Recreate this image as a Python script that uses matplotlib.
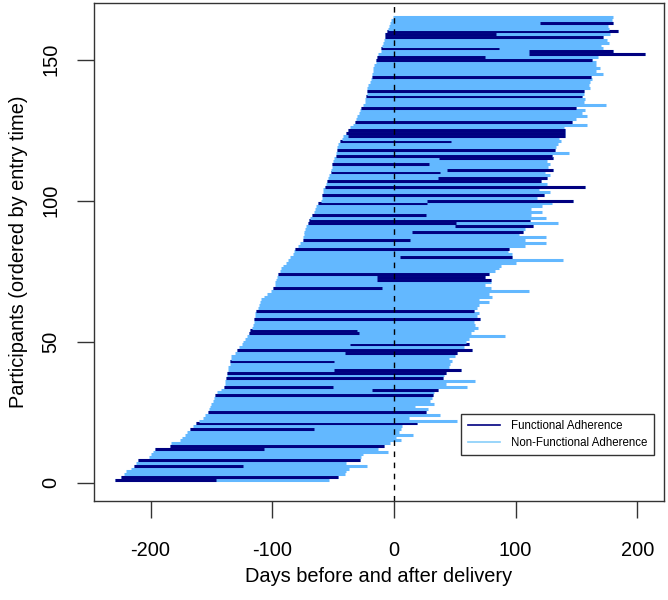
import matplotlib
matplotlib.use("Agg")
import matplotlib.pyplot as plt
from matplotlib.collections import LineCollection
from matplotlib.lines import Line2D

plt.rcParams['font.family'] = ['Liberation Sans', 'DejaVu Sans']
plt.rcParams['axes.unicode_minus'] = False

# Participant rows (ordered by entry time)
starts = [-229, -224, -222, -220, -216, -214, -212, -210, -201, -200,
          -198, -196, -184, -183, -176, -174, -172, -170, -168, -165,
          -163, -160, -157, -155, -153, -152, -151, -150, -149, -148,
          -147, -145, -142, -140, -139, -139, -138, -137, -137, -136,
          -136, -135, -135, -134, -134, -131, -129, -127, -125, -124,
          -122, -121, -119, -118, -117, -116, -115, -115, -114, -114,
          -113, -112, -111, -110, -109, -107, -104, -101, -99, -98,
          -98, -97, -96, -95, -94, -93, -91, -89, -87, -85,
          -83, -82, -81, -79, -77, -75, -75, -74, -74, -73,
          -72, -71, -70, -69, -67, -66, -65, -64, -62, -60,
          -59, -59, -58, -58, -57, -56, -55, -54, -53, -52,
          -52, -51, -51, -50, -49, -48, -48, -47, -47, -46,
          -44, -43, -42, -39, -38, -36, -34, -32, -31, -30,
          -29, -28, -27, -25, -24, -23.5, -23, -22, -22, -22,
          -21, -20, -19, -18, -18, -17, -17, -16, -15, -15,
          -14, -13, -11, -11, -10, -9, -8, -7, -7, -6,
          -5, -4, -3, -2, -1]

ends = [-53, -46, -40, -39, -37, -22, -39, -28, -27, -25,
        -5, -13, -8, -3, 6, 2, 16, 4, 6, 7,
        19, 52, 12, 38, 26, 28, 17, 33, 30, 31,
        32, 33, 36, 60, 43, 67, 40, 41, 43, 55,
        45, 46, 48, 45, 50, 52, 64, 58, 62, 59,
        62, 91, 63, 66, 69, 67, 66, 71, 68, 70,
        66, 68, 70, 78, 70, 81, 78, 111, 80, 75,
        80, 80, 75, 78, 83, 86, 88, 100, 139, 97,
        97, 94, 95, 108, 125, 108, 125, 103, 106, 108,
        114, 135, 112, 125, 113, 122, 113, 122, 130, 147,
        118, 123, 128, 119, 157, 126, 121, 126, 128, 124,
        131, 127, 128, 126, 131, 130, 144, 132, 133, 135,
        137, 136, 141, 141, 141, 140, 159, 146, 150, 159,
        155, 157, 150, 174, 156, 157, 155, 156, 156, 161,
        160, 161, 163, 162, 172, 166, 169, 166, 166, 163,
        168, 206, 180, 172, 170, 177, 175, 172, 178, 184,
        177, 176, 180, 179, 180]

# Functional adherence periods: participant row, from day, to day
dark_rows = [1, 2, 6, 8, 12, 13, 19, 21, 25, 31,
             33, 34, 37, 39, 40, 43, 46, 47, 49, 53,
             54, 58, 61, 69, 72, 73, 74, 80, 83, 86,
             89, 91, 92, 93, 95, 99, 100, 102, 105, 107,
             108, 110, 111, 113, 115, 116, 118, 121, 123, 124,
             125, 128, 133, 137, 139, 144, 150, 151, 152, 153,
             154, 158, 159, 160, 163]
dark_from = [-229, -224, -214, -210, -196, -184, -168, -163, -153, -147,
             -18, -140, -138, -137, -49, -135, -40, -129, -36, -119,
             -118, -115, -113, -99, -14, -14, -95, 5, -81, -75,
             15, 50, -71, -70, -67, -62, 27, -59, -57, -55,
             36, -52, 44, -51, 37, -48, -47, -44, -38, -39,
             -38, -32, -27, -23, -22, -18, -15, -14, 111, 111,
             -11, -7, -7, -6, 120]
dark_to = [-146, -46, -124, -28, -107, -8, -66, 19, 26, 32,
           36, -50, 40, 43, 55, -49, 52, 64, 62, -29,
           -30, 71, 66, -10, 80, 75, 78, 97, 95, 13,
           106, 114, 51, 112, 26, 27, 147, 123, 157, 121,
           126, 38, 131, 29, 131, 130, 132, 47, 141, 141,
           141, 146, 150, 155, 156, 162, 163, 75, 206, 180,
           86, 172, 84, 184, 180]

light_col = '#63B8FF'
dark_col = '#000080'

fig = plt.figure(figsize=(6.68, 6.0), dpi=100)
ax = fig.add_axes([94/668, (600-500.7)/600, (664-94)/668, (500.7-2.7)/600])

segs, cols = [], []
for i, (s, e) in enumerate(zip(starts, ends)):
    r = i + 1
    segs.append([(s, r), (e, r)])
    cols.append(light_col)
    for dr, d0, d1 in zip(dark_rows, dark_from, dark_to):
        if dr == r:
            segs.append([(d0, r), (d1, r)])
            cols.append(dark_col)
lc = LineCollection(segs, colors=cols, linewidths=2.2, capstyle='butt')
ax.add_collection(lc)

ax.axvline(0, color='black', lw=1.0, ls=(0, (4, 4)))

ax.set_xlim(-246.5, 222)
ax.set_ylim(-6.4, 170.2)
ax.set_xticks([-200, -100, 0, 100, 200])
ax.set_yticks([0, 50, 100, 150])
ax.tick_params(axis='both', length=12, width=1, labelsize=14.4, color='#333333')
ax.tick_params(axis='x', pad=17)
ax.tick_params(axis='y', pad=12)
for lab in ax.get_yticklabels():
    lab.set_rotation(90)
    lab.set_va('center')
for sp in ax.spines.values():
    sp.set_color('#333333')
    sp.set_linewidth(1)

ax.set_xlabel('Days before and after delivery', fontsize=14.4, labelpad=5)
ax.set_ylabel('Participants (ordered by entry time)', fontsize=14.4, labelpad=10)

handles = [Line2D([], [], color=dark_col, lw=1.2),
           Line2D([], [], color='#87CEFA', lw=1.2)]
leg = ax.legend(handles, ['Functional Adherence', 'Non-Functional Adherence'],
                loc='lower right', bbox_to_anchor=(0.9825, 0.091),
                fontsize=8.3, frameon=True, fancybox=False, framealpha=1,
                edgecolor='#333333', borderaxespad=0, handlelength=2.8,
                labelspacing=0.42, borderpad=0.55, handletextpad=1.0)
leg.get_frame().set_linewidth(1)

fig.savefig('out.png', dpi=100)
